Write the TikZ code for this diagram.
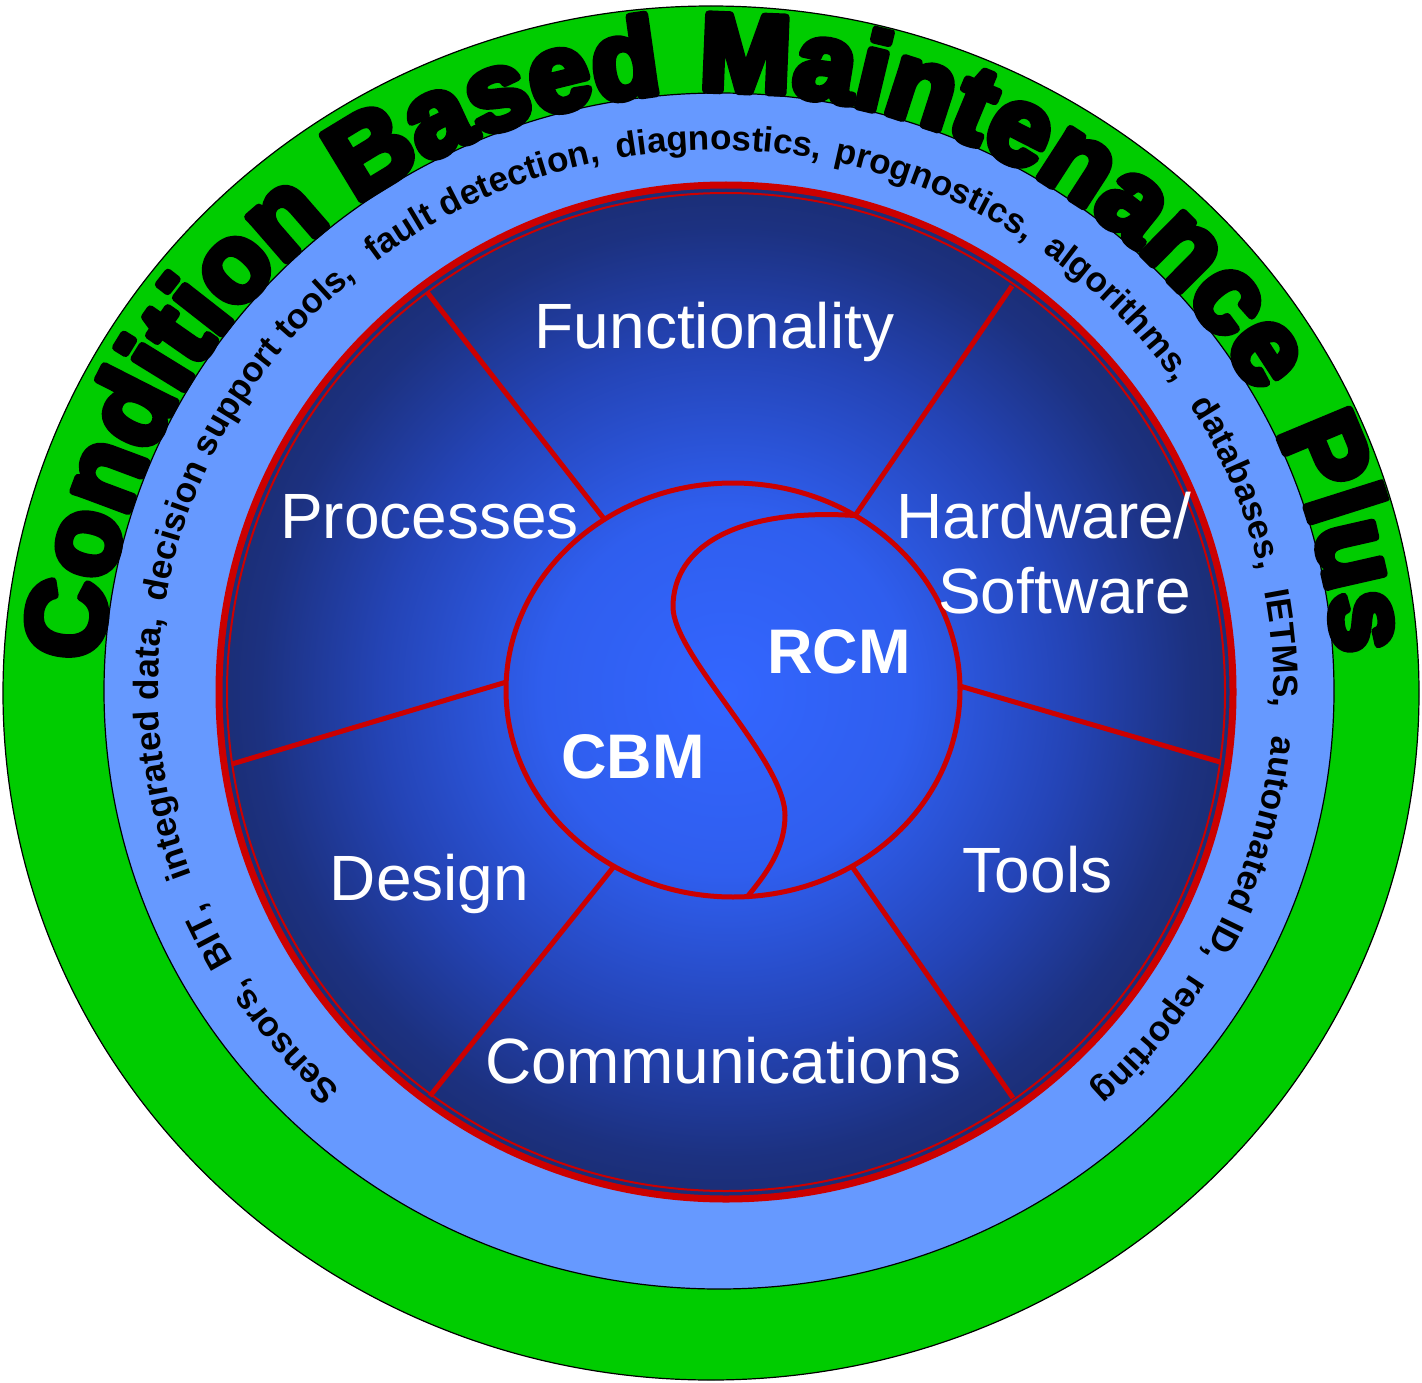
\documentclass[tikz,border=0pt]{standalone}
\usepackage{fontspec}
\setmainfont{Liberation Sans}
\newfontfamily\heavyfont{Liberation Sans Bold}[FakeBold=7]
\newfontfamily\bandfont{Liberation Sans Bold}
\usetikzlibrary{decorations.text,shapes.geometric}
\definecolor{cbmgreen}{RGB}{0,204,0}
\definecolor{cbmlight}{RGB}{102,153,255}
\definecolor{cbmred}{RGB}{204,0,0}
\definecolor{cbmc0}{RGB}{51,102,255}
\definecolor{cbmc1}{RGB}{47,94,238}
\definecolor{cbmc2}{RGB}{36,68,182}
\definecolor{cbmc3}{RGB}{28,49,128}
\definecolor{cbmedge}{RGB}{27,46,118}
\pgfdeclareradialshading{cbmshade}{\pgfpoint{0bp}{0bp}}{color(0bp)=(cbmc0); color(9bp)=(cbmc1); color(17bp)=(cbmc2); color(23bp)=(cbmc3); color(25bp)=(cbmedge); color(50bp)=(cbmedge)}
\newcommand\bigword[2]{%
  \path[line join=round, decorate, decoration={text along path, text={|\special{pdf:code 1 j}\heavyfont\fontsize{110}{110}\selectfont|#2}, text align=center}]
    (718,-691) ++(#1+45:618 and 600) arc[start angle=#1+45, end angle=#1-45, x radius=618, y radius=600];}
\newcommand\bandword[2]{%
  \path[decorate, decoration={text along path, text={|\bandfont\fontsize{35}{35}\selectfont|#2}, text align=center}]
    (716,-690) ++(#1+30:558 and 540) arc[start angle=#1+30, end angle=#1-30, x radius=558, y radius=540];}
\tikzset{
  lbl/.style={text=white, font=\fontsize{64}{64}\selectfont, inner sep=0pt, anchor=base},
  boldlbl/.style={lbl, font=\fontsize{63}{63}\selectfont\bfseries},
  spoke/.style={draw=cbmred, line width=5pt},
}
\begin{document}
\begin{tikzpicture}[x=1pt,y=1pt]
\useasboundingbox (0,-1383) rectangle (1422,0);
% rings
\filldraw[fill=cbmgreen, draw=black, line width=1.2pt] (711,-693) ellipse [x radius=708, y radius=687];
\filldraw[fill=cbmlight, draw=black, line width=1.2pt] (719,-691) ellipse [x radius=615, y radius=598];
% dark disc
\shade[shading=cbmshade] (726,-692) circle [radius=507];
\draw[cbmred, line width=7pt] (726,-692) circle [radius=507];
\draw[cbmred, line width=2pt] (726,-692) circle [radius=499];
% spoke outer ends
\coordinate (s1o) at (427,-292);
\coordinate (s2o) at (1012,-286);
\coordinate (s3o) at (1220,-762);
\coordinate (s4o) at (1013,-1098);
\coordinate (s5o) at (430,-1096);
\coordinate (s6o) at (232,-764);
% core ellipse
\node[ellipse, draw=cbmred, line width=5pt, minimum width=454pt, minimum height=414pt, inner sep=0pt, outer sep=0pt] (core) at (733,-690) {};
\draw[spoke] (core.127.7) -- (s1o);
\draw[spoke] (core.55.9) -- (s2o);
\draw[spoke] (core.1.3) -- (s3o);
\draw[spoke] (core.-56.4) -- (s4o);
\draw[spoke] (core.236.4) -- (s5o);
\draw[spoke] (core.178.5) -- (s6o);
% S curve
\draw[cbmred, line width=5pt] (core.55.9) .. controls (740,-508) and (673,-545) .. (673,-607)
  .. controls (673,-655) and (785,-760) .. (785,-815)
  .. controls (785,-850) and (765,-875) .. (core.-86.1);
% labels
\node[lbl] (func) at (714.5,-348) {Functionality};
\node[lbl] (proc) at (429.5,-538) {Processes};
\node[lbl, anchor=base east] (hw) at (1192,-538) {Hardware/};
\node[lbl, anchor=base east] (sw) at (1191,-613) {Software};
\node[lbl] (des) at (429.5,-900) {Design};
\node[lbl] (comm) at (723.5,-1083) {Communications};
\node[lbl] (tools) at (1037.5,-892) {Tools};
\node[boldlbl] (cbm) at (633,-778) {CBM};
\node[boldlbl] (rcm) at (839,-673) {RCM};
% big ring text, kept inside the green disc
\begin{scope}
\clip (711,-693) ellipse [x radius=707, y radius=686];
\bigword{153.2}{Condition}
\bigword{110.7}{Based}
\bigword{60.5}{Maintenance}
\bigword{14.3}{Plus}
\end{scope}
% band text
\bandword{219.8}{Sensors,}
\bandword{206.5}{BIT,}
\bandword{186.2}{integrated data,}
\bandword{150.5}{decision support tools,}
\bandword{114.9}{fault detection,}
\bandword{89.7}{diagnostics,}
\bandword{66.9}{prognostics,}
\bandword{44.2}{algorithms,}
\bandword{22.2}{databases,}
\bandword{4.3}{IETMS,}
\bandword{-17}{automated ID,}
\bandword{-39.5}{reporting}
\end{tikzpicture}
\end{document}
